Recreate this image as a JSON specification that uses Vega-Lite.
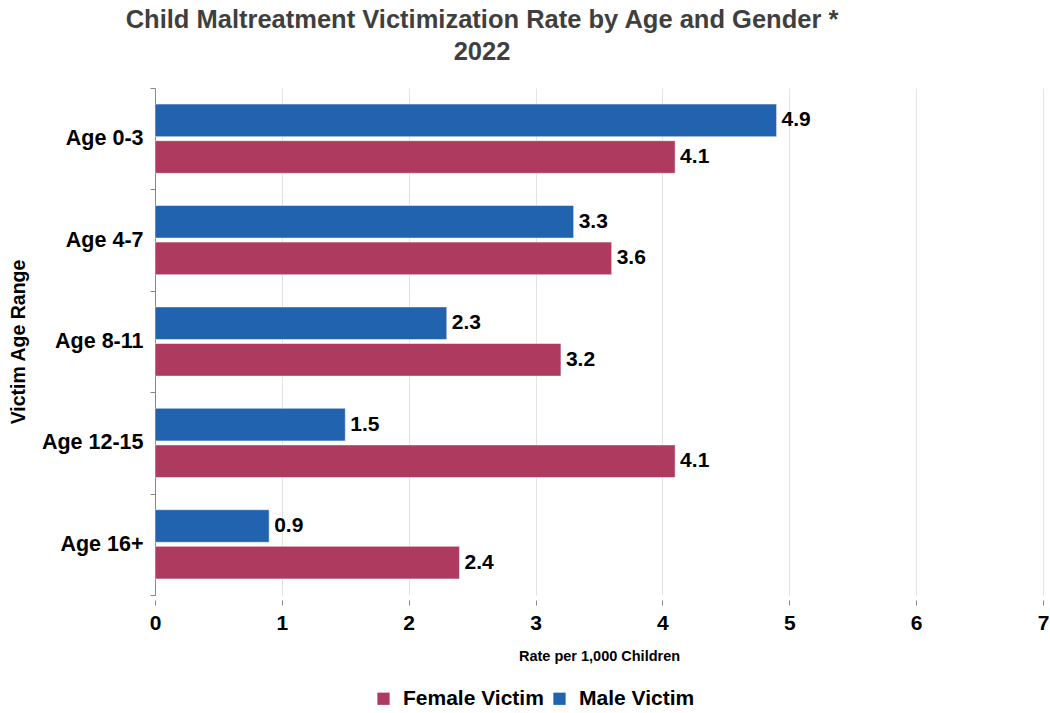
{
  "$schema": "https://vega.github.io/schema/vega-lite/v6.json",
  "autosize": "none",
  "padding": {"left": 155, "top": 88, "right": 7, "bottom": 118},
  "width": 888,
  "height": 507,
  "background": "white",
  "title": {
    "text": ["Child Maltreatment Victimization Rate by Age and Gender *", "2022"],
    "anchor": "middle",
    "dx": -117,
    "offset": 12,
    "font": "Liberation Sans",
    "fontSize": 25.5,
    "fontWeight": "bold",
    "color": "#3f3f3f",
    "lineHeight": 32
  },
  "data": {
    "values": [
      {"age": "Age 0-3", "gender": "Male Victim", "rate": 4.9},
      {"age": "Age 0-3", "gender": "Female Victim", "rate": 4.1},
      {"age": "Age 4-7", "gender": "Male Victim", "rate": 3.3},
      {"age": "Age 4-7", "gender": "Female Victim", "rate": 3.6},
      {"age": "Age 8-11", "gender": "Male Victim", "rate": 2.3},
      {"age": "Age 8-11", "gender": "Female Victim", "rate": 3.2},
      {"age": "Age 12-15", "gender": "Male Victim", "rate": 1.5},
      {"age": "Age 12-15", "gender": "Female Victim", "rate": 4.1},
      {"age": "Age 16+", "gender": "Male Victim", "rate": 0.9},
      {"age": "Age 16+", "gender": "Female Victim", "rate": 2.4}
    ]
  },
  "encoding": {
    "y": {
      "field": "age",
      "type": "nominal",
      "sort": ["Age 0-3", "Age 4-7", "Age 8-11", "Age 12-15", "Age 16+"],
      "scale": {"paddingInner": 0, "paddingOuter": 0},
      "axis": {
        "title": "Victim Age Range",
        "titleFont": "Liberation Sans",
        "titleFontSize": 19.5,
        "titleFontWeight": "bold",
        "titleColor": "#000000",
        "titlePadding": 13,
        "labelFont": "Liberation Sans",
        "labelFontSize": 21.5,
        "labelFontWeight": "bold",
        "labelColor": "#000000",
        "labelPadding": 7,
        "tickBand": "extent",
        "tickSize": 5,
        "tickColor": "#888888",
        "domainColor": "#888888",
        "grid": false
      }
    },
    "yOffset": {
      "field": "gender",
      "type": "nominal",
      "sort": ["Male Victim", "Female Victim"],
      "scale": {"paddingInner": 0.11, "paddingOuter": 0.44}
    },
    "x": {
      "field": "rate",
      "type": "quantitative",
      "scale": {"domain": [0, 7], "nice": false},
      "axis": {
        "title": "Rate per 1,000 Children",
        "titleFont": "Liberation Sans",
        "titleFontSize": 14.5,
        "titleFontWeight": "bold",
        "titleColor": "#000000",
        "titlePadding": 16,
        "labelFont": "Liberation Sans",
        "labelFontSize": 21,
        "labelFontWeight": "bold",
        "labelColor": "#000000",
        "labelPadding": 7,
        "values": [0, 1, 2, 3, 4, 5, 6, 7],
        "labelOverlap": false,
        "labelFlush": false,
        "domain": false,
        "offset": 5,
        "tickSize": 5,
        "tickColor": "#888888",
        "grid": true,
        "gridColor": "#e3e3e3",
        "gridWidth": 1
      }
    }
  },
  "layer": [
    {
      "mark": {"type": "bar", "stroke": "white", "strokeWidth": 0.5},
      "encoding": {
        "color": {
          "field": "gender",
          "type": "nominal",
          "scale": {"domain": ["Female Victim", "Male Victim"], "range": ["#af3a5f", "#2163ae"]},
          "legend": {
            "title": null,
            "orient": "none",
            "direction": "horizontal",
            "legendX": 218,
            "legendY": 600,
            "symbolType": "square",
            "symbolSize": 150,
            "symbolStrokeWidth": 0,
            "labelFont": "Liberation Sans",
            "labelFontSize": 21,
            "labelFontWeight": "bold",
            "labelColor": "#000000",
            "columnPadding": 5,
            "labelOffset": 9
          }
        }
      }
    },
    {
      "mark": {
        "type": "text",
        "align": "left",
        "baseline": "middle",
        "dx": 5,
        "font": "Liberation Sans",
        "fontSize": 21,
        "fontWeight": "bold",
        "color": "#000000"
      },
      "encoding": {
        "text": {"field": "rate", "type": "quantitative", "format": ".1f"}
      }
    }
  ],
  "config": {
    "view": {"stroke": null}
  }
}
